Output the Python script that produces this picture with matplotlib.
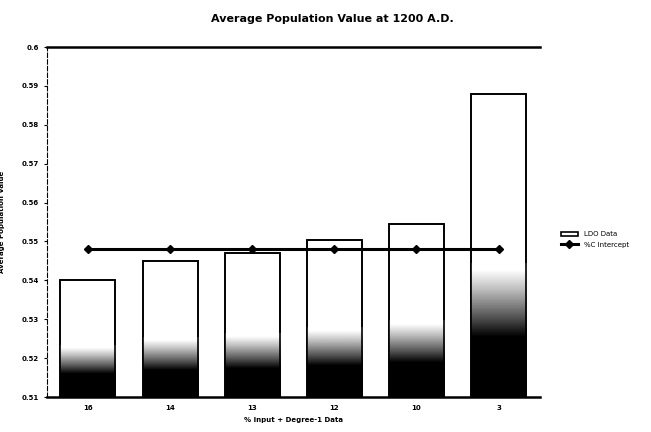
import numpy as np
import matplotlib
matplotlib.use('Agg')
import matplotlib.pyplot as plt
from matplotlib.colors import LinearSegmentedColormap

categories = ['16', '14', '13', '12', '10', '3']
bar_values = [0.540, 0.545, 0.547, 0.5505, 0.5545, 0.588]
line_values = [0.548, 0.548, 0.548, 0.548, 0.548, 0.548]
yticks = [0.51, 0.52, 0.53, 0.54, 0.55, 0.56, 0.57, 0.58, 0.59, 0.6]
ytick_labels = ['0.51', '0.52', '0.53', '0.54', '0.55', '0.56', '0.57', '0.58', '0.59', '0.6']

fig = plt.figure(figsize=(6.51, 4.32), dpi=100)
ax = fig.add_axes([0.072, 0.081, 0.757, 0.810])

x = np.arange(len(categories))
heights = [v - 0.51 for v in bar_values]
bars = ax.bar(x, heights, bottom=0.51, width=0.67,
              color='white', edgecolor='black', linewidth=1.2, label='LDO Data', zorder=2)

# dark shading at the foot of each bar (scan look)
cmap = LinearSegmentedColormap.from_list(
    'shade', [(0.0, 'black'), (0.45, 'black'), (0.6, '#555555'),
              (0.8, '#bbbbbb'), (0.95, 'white'), (1.0, 'white')])
grad = np.linspace(0, 1, 200).reshape(-1, 1)
for b, h in zip(bars, heights):
    x0 = b.get_x()
    im = ax.imshow(grad, cmap=cmap, aspect='auto', origin='lower', interpolation='bilinear',
                   extent=[x0, x0 + b.get_width(), 0.51, 0.51 + 0.44 * h], zorder=2.5)
    im.set_clip_path(b)
# outlines back on top of the shading
ax.bar(x, heights, bottom=0.51, width=0.67, fill=False,
       edgecolor='black', linewidth=1.2, zorder=2.6)

ax.plot(x, line_values, color='black', linewidth=2.2, marker='D', markersize=4,
        label='%C Intercept', zorder=3)

ax.set_xlim(-0.5, len(categories) - 0.5)
ax.set_ylim(0.51, 0.6)
ax.set_xticks(x)
ax.set_xticklabels(categories, fontsize=5, fontweight='bold')
ax.set_yticks(yticks)
ax.set_yticklabels(ytick_labels, fontsize=5, fontweight='bold')
ax.tick_params(axis='x', length=0, pad=6)
ax.tick_params(axis='y', length=2, width=0.8)

ax.spines['right'].set_visible(False)
ax.spines['left'].set_linestyle((0, (4, 2)))
ax.spines['left'].set_linewidth(0.8)
ax.spines['top'].set_linewidth(1.8)
ax.spines['bottom'].set_linewidth(1.8)

fig.text(0.51, 0.955, 'Average Population Value at 1200 A.D.', fontsize=8,
         fontweight='bold', ha='center', va='center')
ax.set_xlabel('% Input + Degree-1 Data', fontsize=5, fontweight='bold', labelpad=4)
ax.set_ylabel('Average Population Value', fontsize=5, fontweight='bold', labelpad=12)

handles, labels = ax.get_legend_handles_labels()
order = [labels.index('LDO Data'), labels.index('%C Intercept')]
ax.legend([handles[i] for i in order], [labels[i] for i in order],
          loc='center left', bbox_to_anchor=(1.03, 0.45), frameon=False,
          fontsize=5, handlelength=2.5, labelspacing=0.6)

plt.savefig('out.png', dpi=100)
